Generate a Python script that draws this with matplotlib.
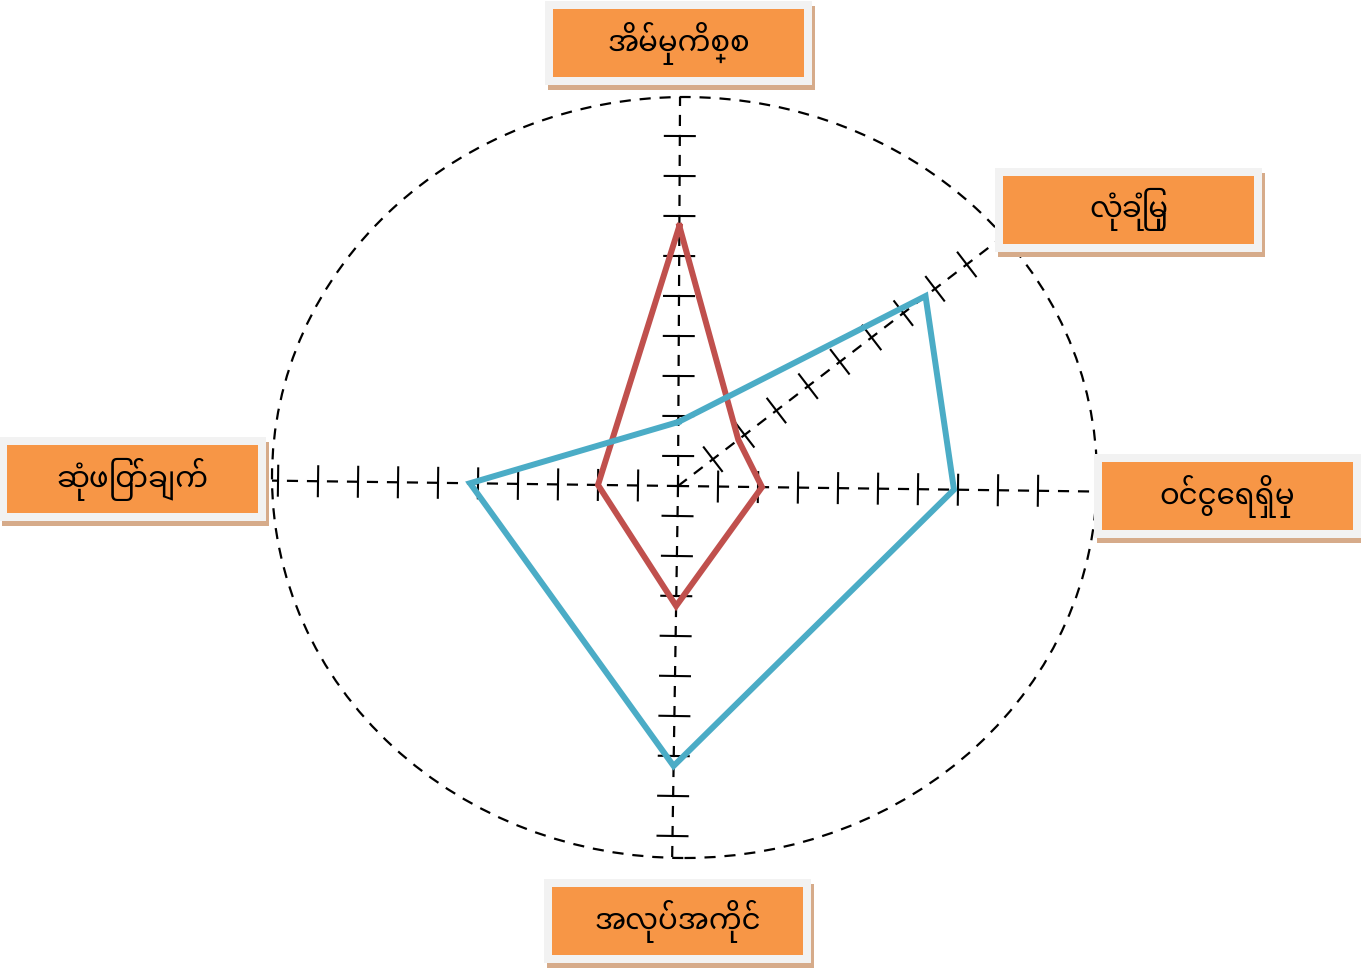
import numpy as np
import matplotlib
matplotlib.use("Agg")
import matplotlib.pyplot as plt
from matplotlib.patches import Rectangle, Ellipse

# ---- data ----
categories = ["အိမ်မှုကိစ္စ", "လုံခြုံမှု", "ဝင်ငွေရရှိမှု", "အလုပ်အကိုင်", "ဆုံဖြတ်ချက်"]
series_red = [6.5, 1.9, 2.1, 3.0, 2.0]
series_blue = [1.6, 7.8, 6.9, 7.0, 5.2]

fam = ["Noto Sans Myanmar", "DejaVu Sans"]

# ---- layout / style ----
W, H, DPI = 1361, 969, 100
PX = 40.0                      # pixels per unit
CX, CY = 678.0, 486.0          # centre of the axes cross, in pixels
angles = [89.7, 37.5, -0.76, 269.1, 179.24]
tick_offset = [-0.25, 0.1, 0.0, -0.25, 0.0]
n_ticks = [9, 9, 9, 9, 10]
ell_c = ((684.5 - CX) / PX, (CY - 477.5) / PX)
ell_a, ell_b = 412.5 / PX, 380.5 / PX
RED, BLUE = "#c0504d", "#4bacc6"
ORANGE, FRAME, SHADOW = "#f79646", "#f2f2f2", "#d6ab8a"
box_centers = [(678.5, 43), (1128.5, 209.5), (1227.5, 495.5), (677.5, 921), (132.5, 479)]
BOX_W, BOX_H = 251, 68

fig = plt.figure(figsize=(W / DPI, H / DPI), dpi=DPI)
ax = fig.add_axes([0, 0, 1, 1])
ax.set_xlim(-CX / PX, (W - CX) / PX)
ax.set_ylim(-(H - CY) / PX, CY / PX)
ax.axis("off")

dash = (0, (5, 4))
ax.add_patch(Ellipse(ell_c, 2 * ell_a, 2 * ell_b, fill=False, ec="black",
                     lw=1.6, ls=dash, zorder=1))


def ray_len(theta):
    dx, dy = np.cos(theta), np.sin(theta)
    cx, cy = ell_c
    A = (dx / ell_a) ** 2 + (dy / ell_b) ** 2
    B = -2 * (dx * cx / ell_a ** 2 + dy * cy / ell_b ** 2)
    C = (cx / ell_a) ** 2 + (cy / ell_b) ** 2 - 1
    return (-B + np.sqrt(B * B - 4 * A * C)) / (2 * A)


for ang, off, nt in zip(angles, tick_offset, n_ticks):
    th = np.deg2rad(ang)
    L = ray_len(th)
    d = np.array([np.cos(th), np.sin(th)])
    n = np.array([-d[1], d[0]])
    ax.plot([0, L * d[0]], [0, L * d[1]], color="black", lw=1.6, ls=dash, zorder=2)
    for k in range(1, nt + 1):
        p = min(k + off, L) * d
        a, b = p - 0.4 * n, p + 0.4 * n
        ax.plot([a[0], b[0]], [a[1], b[1]], color="black", lw=1.5, zorder=2,
                solid_capstyle="butt")


def polygon(vals):
    th = np.deg2rad(angles)
    v = np.asarray(vals)
    x = v * np.cos(th)
    y = v * np.sin(th)
    return np.append(x, x[0]), np.append(y, y[0])


for vals, col in [(series_red, RED), (series_blue, BLUE)]:
    x, y = polygon(vals)
    ax.plot(x, y, color=col, lw=4.3, solid_joinstyle="miter", zorder=3)


def px_to_fig(x, y):
    return x / W, 1 - y / H


for (bx, by), label in zip(box_centers, categories):
    fw, fh = BOX_W + 16, BOX_H + 16
    x0, y0 = px_to_fig(bx - fw / 2 + 3, by + fh / 2 + 5)
    fig.patches.append(Rectangle((x0, y0), fw / W, fh / H, transform=fig.transFigure,
                                 fc=SHADOW, ec="none", zorder=5))
    x0, y0 = px_to_fig(bx - fw / 2, by + fh / 2)
    fig.patches.append(Rectangle((x0, y0), fw / W, fh / H, transform=fig.transFigure,
                                 fc=FRAME, ec="none", zorder=6))
    x0, y0 = px_to_fig(bx - BOX_W / 2, by + BOX_H / 2)
    fig.patches.append(Rectangle((x0, y0), BOX_W / W, BOX_H / H, transform=fig.transFigure,
                                 fc=ORANGE, ec="none", zorder=7))
    tx, ty = px_to_fig(bx, by)
    fig.text(tx, ty, label, ha="center", va="center", fontsize=21, family=fam,
             color="black", zorder=8)

fig.savefig("out.png", dpi=DPI)
